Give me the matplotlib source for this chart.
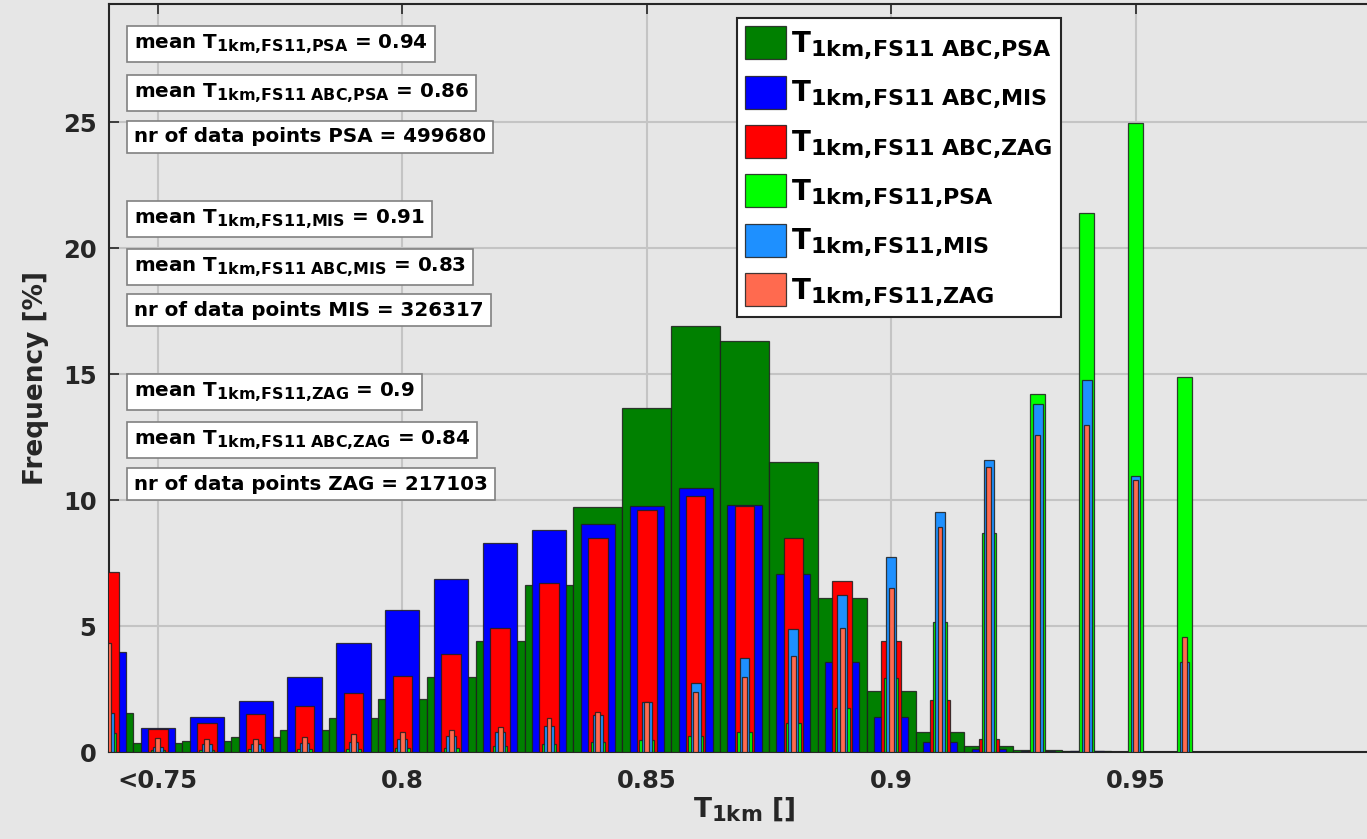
import numpy as np
import matplotlib
matplotlib.use("Agg")
import matplotlib.pyplot as plt
import matplotlib._mathtext as mt

# indices un peu plus grands (comme le rendu TeX de MATLAB)
mt.SHRINK_FACTOR = 0.8

# --- Données (fréquences en %) ---
centres = [0.74, 0.75, 0.76, 0.77, 0.78, 0.79, 0.80, 0.81, 0.82, 0.83, 0.84, 0.85,
           0.86, 0.87, 0.88, 0.89, 0.90, 0.91, 0.92, 0.93, 0.94, 0.95, 0.96]

abc_psa = [1.56, 0.34, 0.45, 0.58, 0.87, 1.36, 2.09, 2.99, 4.42, 6.63, 9.73, 13.65,
           16.9, 16.3, 11.5, 6.1, 2.42, 0.79, 0.24, 0.08, 0.05, 0.0, 0.0]
abc_mis = [3.98, 0.97, 1.38, 2.01, 2.99, 4.34, 5.63, 6.88, 8.28, 8.81, 9.07, 9.76,
           10.49, 9.79, 7.05, 3.56, 1.40, 0.38, 0.11, 0.03, 0.02, 0.0, 0.0]
abc_zag = [7.14, 0.90, 1.15, 1.52, 1.84, 2.35, 3.03, 3.88, 4.93, 6.73, 8.50, 9.60,
           10.16, 9.76, 8.50, 6.79, 4.40, 2.07, 0.50, 0.03, 0.0, 0.0, 0.0]
fs11_psa = [0.77, 0.06, 0.08, 0.10, 0.12, 0.13, 0.15, 0.17, 0.25, 0.30, 0.38, 0.48,
            0.65, 0.81, 1.14, 1.76, 2.95, 5.17, 8.68, 14.23, 21.39, 24.96, 14.89]
fs11_mis = [1.56, 0.21, 0.30, 0.30, 0.34, 0.41, 0.50, 0.63, 0.81, 1.03, 1.45, 1.97,
            2.72, 3.74, 4.90, 6.23, 7.75, 9.54, 11.61, 13.80, 14.79, 10.96, 3.56]
fs11_zag = [4.31, 0.54, 0.50, 0.50, 0.58, 0.70, 0.81, 0.87, 1.00, 1.34, 1.57, 1.97,
            2.38, 2.99, 3.82, 4.91, 6.52, 8.94, 11.30, 12.60, 12.98, 10.79, 4.55]

labels = [r"T$_{1km{,}FS11\ ABC{,}PSA}$", r"T$_{1km{,}FS11\ ABC{,}MIS}$",
          r"T$_{1km{,}FS11\ ABC{,}ZAG}$", r"T$_{1km{,}FS11{,}PSA}$",
          r"T$_{1km{,}FS11{,}MIS}$", r"T$_{1km{,}FS11{,}ZAG}$"]
couleurs = ["#008000", "#0000FF", "#FF0000", "#00FF00", "#1E90FF", "#FF6A4F"]
largeurs = [0.010, 0.007, 0.004, 0.003, 0.002, 0.001]

textes = [r"mean T$_{1km{,}FS11{,}PSA}$ = 0.94",
          r"mean T$_{1km{,}FS11\ ABC{,}PSA}$ = 0.86",
          "nr of data points PSA = 499680",
          r"mean T$_{1km{,}FS11{,}MIS}$ = 0.91",
          r"mean T$_{1km{,}FS11\ ABC{,}MIS}$ = 0.83",
          "nr of data points MIS = 326317",
          r"mean T$_{1km{,}FS11{,}ZAG}$ = 0.9",
          r"mean T$_{1km{,}FS11\ ABC{,}ZAG}$ = 0.84",
          "nr of data points ZAG = 217103"]
y_textes = [44, 93, 137, 219, 267, 310, 392, 440, 484]   # centres en pixels

gris_fond = "#E6E6E6"
noir = "#262626"

plt.rcParams["font.family"] = ["DejaVu Sans"]
plt.rcParams["font.weight"] = "bold"
plt.rcParams["mathtext.fontset"] = "dejavusans"
plt.rcParams["mathtext.default"] = "bf"

W, H = 1367, 839
fig = plt.figure(figsize=(W / 100, H / 100), dpi=100, facecolor=gris_fond)
ax = fig.add_axes([109 / W, 1 - 752 / H, (1380 - 109) / W, (752 - 4) / H])
ax.set_facecolor(gris_fond)

series = [abc_psa, abc_mis, abc_zag, fs11_psa, fs11_mis, fs11_zag]
for vals, c, w, lab in zip(series, couleurs, largeurs, labels):
    ax.bar(centres, vals, width=w, color=c, edgecolor=(0.12, 0.12, 0.12, 0.85),
           linewidth=0.9, label=lab, zorder=3)

ax.set_xlim(0.74, 1.0)
ax.set_ylim(0, 29.7)
ax.set_xticks([0.75, 0.8, 0.85, 0.9, 0.95, 1.0])
ax.set_xticklabels(["<0.75", "0.8", "0.85", "0.9", "0.95", ""])
ax.set_yticks([0, 5, 10, 15, 20, 25])
ax.tick_params(axis="both", direction="in", length=7, width=1.2, colors=noir,
               labelsize=17.5, top=True, right=True)
ax.tick_params(axis="y", pad=9)
ax.tick_params(axis="x", pad=12)
for lab in ax.get_xticklabels() + ax.get_yticklabels():
    lab.set_fontweight("bold")

ax.grid(True, color="#C4C4C4", linewidth=1.5, zorder=0)
ax.set_axisbelow(True)
for sp in ax.spines.values():
    sp.set_color(noir)
    sp.set_linewidth(1.5)

ax.set_xlabel(r"T$_{1km}$ []", fontsize=19, fontweight="bold", color=noir, labelpad=2)
ax.set_ylabel("Frequency [%]", fontsize=19, fontweight="bold", color=noir, labelpad=10)

# Encadrés de texte
for t, yp in zip(textes, y_textes):
    fig.text(134 / W, 1 - yp / H, t, fontsize=14.3, fontweight="bold", color="black",
             ha="left", va="center",
             bbox=dict(boxstyle="square,pad=0.35", fc="white", ec="#808080", lw=1.2))

leg = ax.legend(loc="upper left", bbox_to_anchor=(737 / W, 1 - 18 / H),
                bbox_transform=fig.transFigure, fontsize=20, frameon=True,
                fancybox=False, handlelength=1.45, handleheight=1.45,
                labelspacing=0.5, handletextpad=0.2, borderpad=0.3,
                borderaxespad=0)
leg.get_frame().set_edgecolor(noir)
leg.get_frame().set_linewidth(1.5)
leg.get_frame().set_alpha(1)

fig.savefig("out.png", dpi=100, facecolor=gris_fond)
